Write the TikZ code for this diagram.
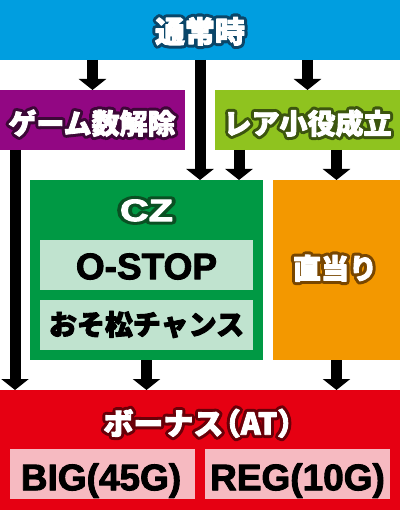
\documentclass[tikz,border=0pt]{standalone}
\usepackage{fontspec}
\newfontfamily\jp{Noto Sans CJK JP}
\newfontfamily\lat{Liberation Sans}
\usetikzlibrary{arrows.meta,calc}
\definecolor{cblue}{RGB}{0,158,224}
\definecolor{cpurple}{RGB}{146,7,131}
\definecolor{clime}{RGB}{143,195,31}
\definecolor{cgreen}{RGB}{0,153,68}
\definecolor{corange}{RGB}{243,152,0}
\definecolor{cred}{RGB}{230,0,18}
\definecolor{clgreen}{RGB}{192,227,207}
\definecolor{cpink}{RGB}{246,186,193}
\definecolor{oblue}{RGB}{10,70,105}
\definecolor{opurple}{RGB}{60,8,55}
\definecolor{olime}{RGB}{60,85,15}
\definecolor{ogreen}{RGB}{10,80,35}
\definecolor{oorange}{RGB}{120,70,0}
\definecolor{ored}{RGB}{105,0,8}
\tikzset{
  box/.style={rectangle, inner sep=0pt, outer sep=0pt, anchor=north west, draw=none},
  arr/.style={line width=11pt, black, -{Triangle[width=27pt,length=11pt]}},
  jlab/.style={inner sep=0pt, font=\jp\bfseries\fontsize{#1}{#1}\selectfont,
    text height={0.84*#1pt}, text depth={0.06*#1pt}},
  llab/.style={inner sep=0pt, font=\lat\bfseries\fontsize{#1}{#1}\selectfont,
    text height={0.716*#1pt}, text depth=0pt},
}
% stroke-only outline / fill+stroke embolden via text render mode
\newcommand\strk[1]{\special{pdf:literal direct 1 j 1 J 7 w 1 Tr}#1\special{pdf:literal direct 0 Tr 0.4 w 0 j 0 J}}
\newcommand\bold[1]{\special{pdf:literal direct 1 j 0.9 w 2 Tr}#1\special{pdf:literal direct 0 Tr 0.4 w 0 j}}
\newcommand\olabel[5]{%
  \node[#4,text=#3] at (#2) {\strk{#5}};
  \node[#4,text=white] (#1) at (#2) {\bold{#5}};
}
\begin{document}
\begin{tikzpicture}[x=1pt,y=-1pt]
\useasboundingbox (0,0) rectangle (400,510);
% boxes
\node[box, fill=cblue, minimum width=400pt, minimum height=60pt] (top) at (0,0) {};
\node[box, fill=cpurple, minimum width=185pt, minimum height=60pt] (purple) at (0,90) {};
\node[box, fill=clime, minimum width=185pt, minimum height=60pt] (lime) at (215,90) {};
\node[box, fill=cgreen, minimum width=233pt, minimum height=180pt] (cz) at (30,180) {};
\node[box, fill=corange, minimum width=127pt, minimum height=180pt] (orange) at (273,180) {};
\node[box, fill=clgreen, minimum width=213pt, minimum height=50pt] (ostop) at (40,240) {};
\node[box, fill=clgreen, minimum width=213pt, minimum height=50pt] (osomatsu) at (40,300) {};
\node[box, fill=cred, minimum width=400pt, minimum height=120pt] (bonus) at (0,390) {};
\node[box, fill=cpink, minimum width=185pt, minimum height=50pt] (big) at (10,449) {};
\node[box, fill=cpink, minimum width=185pt, minimum height=50pt] (reg) at (205,449) {};
% arrow x positions
\coordinate (xa) at (200,0);
\coordinate (xb) at (239,0);
\coordinate (xc) at (15,0);
% arrows
\draw[arr] (top.south -| purple.north) -- (purple.north);
\draw[arr] (top.south -| xa) -- (cz.north -| xa);
\draw[arr] (top.south -| lime.north) -- (lime.north);
\draw[arr] (lime.south -| xb) -- (cz.north -| xb);
\draw[arr] (lime.south -| orange.north) -- (orange.north);
\draw[arr] (purple.south -| xc) -- (bonus.north -| xc);
\draw[arr] (cz.south) -- (bonus.north -| cz.south);
\draw[arr] (orange.south) -- (bonus.north -| orange.south);
% labels
\coordinate (pt) at (200,31);
\olabel{ttop}{pt}{oblue}{jlab=30}{通常時}
\coordinate (pp) at (92,123);
\olabel{tpurple}{pp}{opurple}{jlab=28}{ゲーム数解除}
\coordinate (pl) at (307.5,123);
\olabel{tlime}{pl}{olime}{jlab=28}{レア小役成立}
\coordinate (czc) at (146.5,210);
\olabel{tcz}{czc}{ogreen}{llab=31,xscale=1.28}{CZ}
\coordinate (po) at (146.5,266);
\node[llab=37] (tostop) at (po) {\bold{O-STOP}};
\coordinate (ps) at (146.5,324);
\node[jlab=28] (tosomatsu) at (ps) {\bold{おそ松チャンス}};
\coordinate (pr) at (335,268);
\olabel{torange}{pr}{oorange}{jlab=28}{直当り}
\coordinate (bc) at (199,423);
\olabel{tbonus}{bc}{ored}{jlab=30}{ボーナス\kern-0.42em（AT）\kern-0.42em}
\coordinate (pb) at (101,477);
\node[llab=37] (tbig) at (pb) {\bold{BIG(45G)}};
\coordinate (pg) at (297.5,477);
\node[llab=37] (treg) at (pg) {\bold{REG(10G)}};
\end{tikzpicture}
\end{document}
